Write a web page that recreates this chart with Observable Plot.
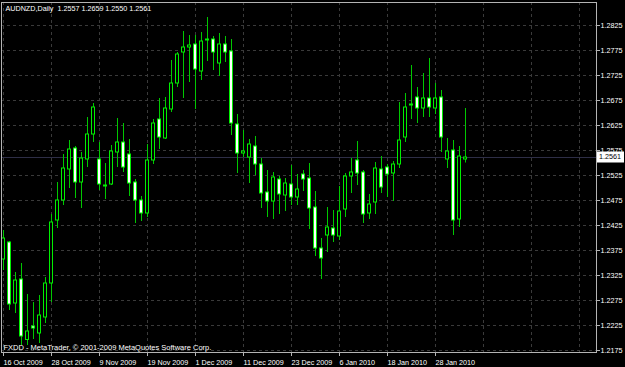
<!DOCTYPE html>
<html><head><meta charset="utf-8">
<script src="https://cdn.jsdelivr.net/npm/d3@7"></script>
<script src="https://cdn.jsdelivr.net/npm/@observablehq/plot@0.6"></script>
<style>
html,body{margin:0;padding:0;background:#000;}
#chart{width:625px;height:367px;overflow:hidden;}
</style></head><body><div id="chart"></div>
<script>
const symbol = "AUDNZD,Daily";
const footer = "FXDD - MetaTrader, \u00a9 2001-2009 MetaQuotes Software Corp.";
const dates = [
 "2009-10-16","2009-10-19","2009-10-20","2009-10-21","2009-10-22","2009-10-23","2009-10-26","2009-10-27","2009-10-28","2009-10-29","2009-10-30",
 "2009-11-02","2009-11-03","2009-11-04","2009-11-05","2009-11-06","2009-11-09","2009-11-10","2009-11-11","2009-11-12","2009-11-13",
 "2009-11-16","2009-11-17","2009-11-18","2009-11-19","2009-11-20","2009-11-23","2009-11-24","2009-11-25","2009-11-26","2009-11-27","2009-11-30",
 "2009-12-01","2009-12-02","2009-12-03","2009-12-04","2009-12-07","2009-12-08","2009-12-09","2009-12-10","2009-12-11",
 "2009-12-14","2009-12-15","2009-12-16","2009-12-17","2009-12-18","2009-12-21","2009-12-22","2009-12-23","2009-12-24",
 "2009-12-28","2009-12-29","2009-12-30","2009-12-31",
 "2010-01-04","2010-01-05","2010-01-06","2010-01-07","2010-01-08","2010-01-11","2010-01-12","2010-01-13","2010-01-14","2010-01-15",
 "2010-01-18","2010-01-19","2010-01-20","2010-01-21","2010-01-22","2010-01-25","2010-01-26","2010-01-27","2010-01-28","2010-01-29",
 "2010-02-01","2010-02-02","2010-02-03","2010-02-04"
];
const open = [
 1.2357,1.2391,1.2269,1.2317,1.2196,1.2223,1.2209,1.2241,1.2309,1.2435,1.2475,
 1.2537,1.2579,1.2511,1.2557,1.2607,1.2557,1.2503,1.2507,1.2571,1.2591,
 1.2567,1.2511,1.2475,1.2449,1.2555,1.2637,1.2599,1.2657,1.2709,1.2771,1.2781,
 1.2787,1.2733,1.2795,1.2797,1.2749,1.2787,1.2773,1.2627,1.2569,
 1.2561,1.2583,1.2547,1.2491,1.2473,1.2517,1.2485,1.2507,1.2481,
 1.2527,1.2519,1.2461,1.2379,
 1.2405,1.2419,1.2403,1.2457,1.2523,1.2555,1.2531,1.2449,1.2471,1.2537,
 1.2541,1.2529,1.2547,1.2601,1.2665,1.2681,1.2659,1.2679,1.2659,1.2681,
 1.2557,1.2575,1.2437,1.2557
];
const high = [
 1.2415,1.2393,1.2331,1.2349,1.2287,1.2271,1.2285,1.2321,1.2447,1.2511,1.2567,
 1.2595,1.2583,1.2571,1.2641,1.2669,1.2591,1.2549,1.2585,1.2639,1.2629,
 1.2597,1.2517,1.2483,1.2587,1.2637,1.2679,1.2681,1.2755,1.2771,1.2813,1.2805,
 1.2805,1.2811,1.2841,1.2803,1.2809,1.2803,1.2797,1.2647,1.2615,
 1.2597,1.2603,1.2559,1.2535,1.2531,1.2523,1.2519,1.2545,1.2527,
 1.2535,1.2549,1.2493,1.2399,
 1.2461,1.2455,1.2503,1.2529,1.2559,1.2593,1.2535,1.2487,1.2551,1.2563,
 1.2547,1.2553,1.2671,1.2689,1.2745,1.2701,1.2729,1.2759,1.2709,1.2695,
 1.2599,1.2595,1.2583,1.2659
];
const low = [
 1.2335,1.2255,1.2249,1.2185,1.2185,1.2197,1.2189,1.2229,1.2271,1.2419,1.2465,
 1.2499,1.2479,1.2459,1.2541,1.2591,1.2495,1.2477,1.2505,1.2541,1.2531,
 1.2483,1.2429,1.2433,1.2441,1.2547,1.2577,1.2597,1.2651,1.2701,1.2679,1.2711,
 1.2657,1.2715,1.2753,1.2735,1.2723,1.2751,1.2605,1.2529,1.2561,
 1.2509,1.2525,1.2459,1.2441,1.2437,1.2447,1.2453,1.2465,1.2465,
 1.2493,1.2417,1.2363,1.2317,
 1.2371,1.2391,1.2395,1.2441,1.2489,1.2505,1.2429,1.2437,1.2447,1.2489,
 1.2481,1.2473,1.2539,1.2591,1.2637,1.2629,1.2641,1.2641,1.2647,1.2571,
 1.2539,1.2405,1.2421,1.2550
];
const close = [
 1.2399,1.2267,1.2315,1.2203,1.2213,1.2219,1.2245,1.2309,1.2431,1.2475,1.2539,
 1.2577,1.2511,1.2559,1.2607,1.2661,1.2507,1.2505,1.2573,1.2591,1.2541,
 1.2509,1.2475,1.2449,1.2555,1.2629,1.2601,1.2659,1.2709,1.2767,1.2781,1.2785,
 1.2737,1.2793,1.2797,1.2771,1.2787,1.2771,1.2629,1.2569,1.2573,
 1.2587,1.2547,1.2489,1.2473,1.2521,1.2487,1.2509,1.2481,1.2497,
 1.2517,1.2459,1.2379,1.2359,
 1.2421,1.2405,1.2453,1.2523,1.2531,1.2529,1.2447,1.2467,1.2539,1.2501,
 1.2527,1.2547,1.2595,1.2661,1.2667,1.2659,1.2679,1.2661,1.2679,1.2601,
 1.2573,1.2435,1.2563,1.2561
];
const priceTicks = [1.2175,1.2225,1.2275,1.2325,1.2375,1.2425,1.2475,1.2525,1.2575,1.2625,1.2675,1.2725,1.2775,1.2825];

const bars = dates.map((d, i) => ({i, date: d, o: open[i], h: high[i], l: low[i], c: close[i]}));
const last = bars[bars.length - 1];
const header = `${symbol}\u00a0\u00a0${last.o.toFixed(4)} ${last.h.toFixed(4)} ${last.l.toFixed(4)} ${last.c.toFixed(4)}`;
const parse = d3.utcParse("%Y-%m-%d");
const fmt = d3.utcFormat("%-d %b %Y");
const labelIdx = d3.range(0, dates.length, 8);
const gridIdx = d3.range(0, 97, 8);

const FONT = "'Liberation Sans', Arial, sans-serif";
const gridColor = "#3a3a3a";
const wick = "#00c800";
const outline = "#00f000";
const border = "#b4b4b4";

const plot = Plot.plot({
  width: 625, height: 367,
  marginLeft: 1, marginRight: 29, marginTop: 2, marginBottom: 15,
  style: {background: "#000", color: "#fff", fontFamily: FONT, fontSize: "7.2px", overflow: "visible"},
  x: {type: "linear", domain: [0, 77], range: [3, 465]},
  y: {domain: [1.2175, 1.2825], range: [350, 25]},
  marks: [
    Plot.ruleY(priceTicks, {stroke: gridColor, strokeDasharray: "3,3"}),
    Plot.ruleX(gridIdx, {stroke: gridColor, strokeDasharray: "3,3"}),
    Plot.ruleY([last.c], {stroke: "#2e2e46"}),
    Plot.ruleX(bars, {x: "i", y1: "l", y2: "h", stroke: wick}),
    Plot.rect(bars, {
      x1: d => d.i - 0.5, x2: d => d.i + 0.5, y1: "o", y2: "c",
      insetLeft: 1.5, insetRight: 1.5,
      fill: d => d.c >= d.o ? "#000" : "#fff", stroke: outline
    }),
    Plot.frame({stroke: border}),
    Plot.axisY(priceTicks, {anchor: "right", label: null, tickSize: 3, tickPadding: 1, tickFormat: d => d.toFixed(4), stroke: border, fill: "#fff"}),
    Plot.axisX(labelIdx, {anchor: "bottom", label: null, tickSize: 4, tickPadding: 3, tickFormat: i => fmt(parse(dates[i])), textAnchor: "start", stroke: border, fill: "#fff"}),
    Plot.text([header], {frameAnchor: "top-left", textAnchor: "start", lineAnchor: "top", dx: 4, dy: 3, fill: "#fff"}),
    Plot.text([footer], {frameAnchor: "bottom-left", textAnchor: "start", lineAnchor: "top", dx: 2, dy: -8, fill: "#fff", fontSize: 7.5})
  ]
});

// current bid label on the price axis
const yb = plot.scale("y").apply(last.c);
const svg = d3.select(plot);
const g = svg.append("g").attr("text-anchor", "start");
g.append("rect").attr("x", 597).attr("y", Math.round(yb) - 5.5).attr("width", 27).attr("height", 11).attr("fill", "#fff");
g.append("text").attr("x", 599).attr("y", yb).attr("dy", "0.32em").attr("fill", "#000")
  .attr("font-family", FONT).attr("font-size", "7.2px").text(last.c.toFixed(4));

document.getElementById("chart").appendChild(plot);
</script></body></html>
